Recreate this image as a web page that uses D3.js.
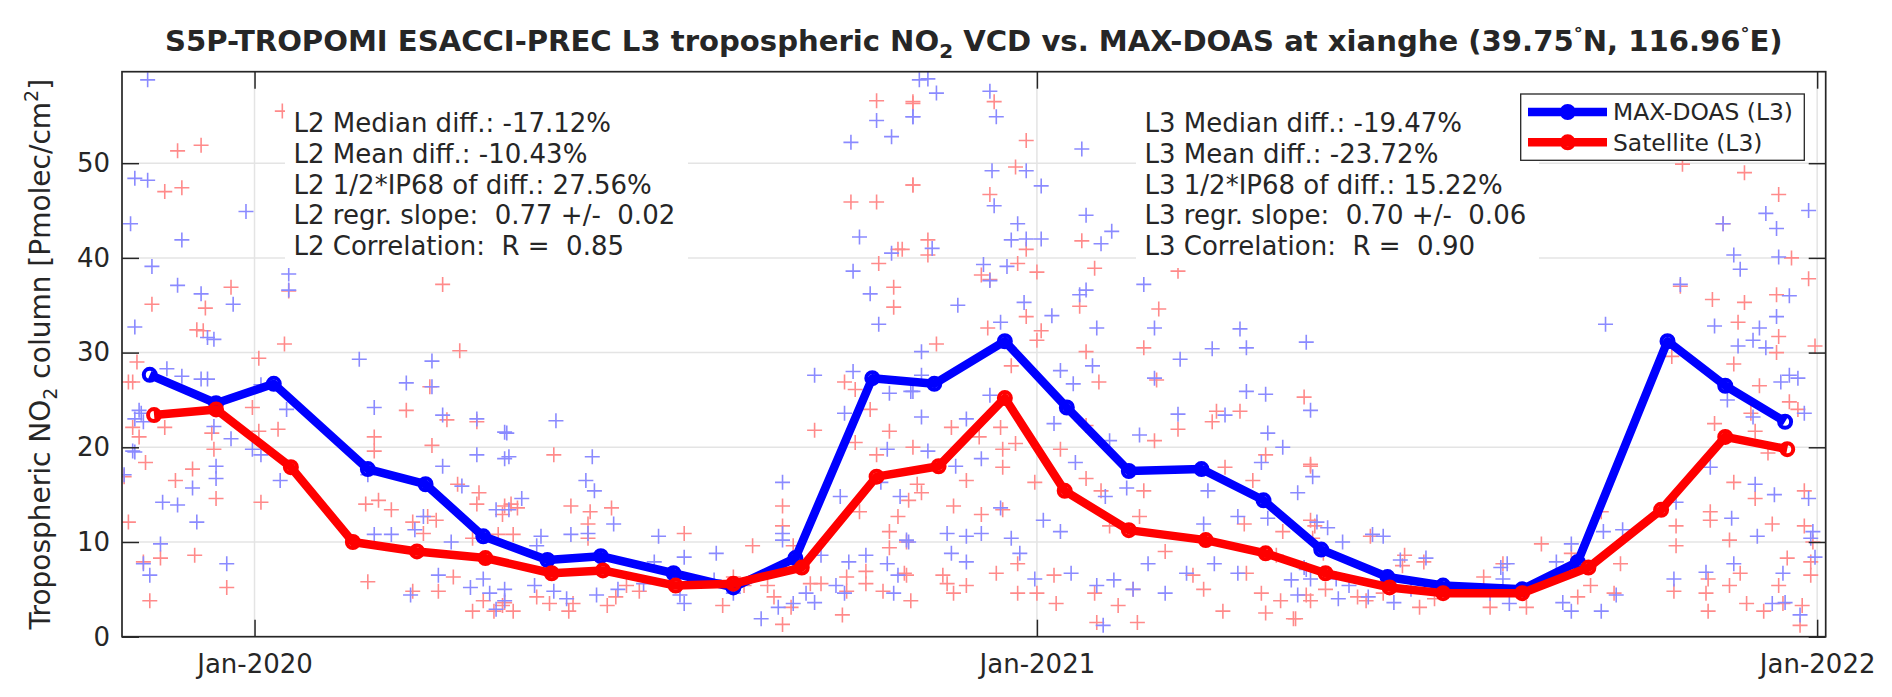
<!DOCTYPE html>
<html>
<head>
<meta charset="utf-8">
<script src="https://cdn.jsdelivr.net/npm/d3@7"></script>
<style>
  body { margin: 0; background: #fff; }
  text { font-family: "DejaVu Sans", "Liberation Sans", sans-serif; fill: #262626; }
</style>
</head>
<body>
<svg id="chart" width="1892" height="697"></svg>
<script>
// monthly means (mean observation time of each month)
const doasDates = ["2019-11-13","2019-12-14","2020-01-10","2020-02-23","2020-03-21","2020-04-17",
  "2020-05-17","2020-06-11","2020-07-15","2020-08-12","2020-09-10","2020-10-16","2020-11-14",
  "2020-12-17","2021-01-15","2021-02-13","2021-03-19","2021-04-17","2021-05-14","2021-06-14",
  "2021-07-10","2021-08-16","2021-09-11","2021-10-23","2021-11-19","2021-12-17"];
const doasMonthly = [27.65,24.65,26.7,17.7,16.1,10.6,8.1,8.5,6.7,5.2,8.3,27.3,26.7,
  31.2,24.2,17.5,17.7,14.4,9.2,6.3,5.4,5.0,7.9,31.2,26.5,22.7];

const satDates = ["2019-11-15","2019-12-14","2020-01-18","2020-02-16","2020-03-17","2020-04-18",
  "2020-05-19","2020-06-12","2020-07-16","2020-08-12","2020-09-13","2020-10-18","2020-11-16",
  "2020-12-17","2021-01-14","2021-02-13","2021-03-21","2021-04-18","2021-05-16","2021-06-15",
  "2021-07-10","2021-08-16","2021-09-16","2021-10-20","2021-11-19","2021-12-18"];
const satMonthly = [23.4,24.0,17.9,10.0,9.0,8.3,6.7,7.0,5.4,5.6,7.3,16.9,18.0,
  25.2,15.4,11.25,10.2,8.8,6.7,5.2,4.6,4.6,7.3,13.4,21.1,19.8];

// daily pairs: [days since 2020-01-01, value]
const doasDaily = [[-50,58.8],[-56,48.4],[-50,48.2],[-58,43.6],[-4,44.9],[-34,41.9],[-48,39.1],[-36,37.1],
  [-25,36.2],[-10,35.1],[16,38.3],[16,36.6],[-56,32.7],[-19,31.4],[-22,31.6],[-41,28.3],[-34,27.5],[-25,27.2],
  [-22,27.2],[49,29.3],[83,29.1],[71,26.8],[83,26.4],[56,24.2],[88,23.4],[104,23.0],[117,21.6],[-53,23.6],
  [-56,23.0],[-57,19.6],[-61,17.1],[-11,20.9],[-18,18.0],[-18,16.7],[-29,15.7],[-43,14.2],[-36,13.9],[-27,12.1],
  [-44,9.8],[-49,6.5],[-52,7.7],[-13,7.7],[-1,19.8],[3,19.2],[12,16.5],[15,24.0],[3,26.6],[53,17.1],[56,10.8],
  [64,10.8],[75,11.3],[79,12.7],[88,18.0],[97,15.9],[104,19.2],[113,13.4],[117,18.8],[86,6.5],[92,10.0],
  [101,5.2],[110,4.6],[113,2.9],[107,6.1],[73,4.4],[-54,23.9],[-56,19.5],[-52,22.7],[-19,22.2],
  [279,52.2],[291,54.5],[298,52.8],[308,54.9],[311,58.8],[283,42.2],[280,38.6],[298,40.5],[288,36.2],[292,33.0],
  [262,27.6],[280,28.0],[276,23.6],[297,25.7],[307,25.9],[296,19.8],[293,16.3],[302,14.8],[274,14.8],[247,16.3],
  [118,21.5],[119,19.0],[141,22.8],[158,19.0],[155,16.5],[159,15.4],[168,11.9],[125,14.6],[119,13.4],[148,10.8],
  [156,10.9],[134,10.6],[132,9.6],[189,10.6],[201,8.4],[187,7.9],[216,8.8],[247,10.2],[247,10.9],[265,8.6],
  [286,8.6],[278,7.9],[306,10.0],[296,7.7],[301,6.5],[276,4.6],[117,5.0],[117,3.8],[131,5.4],[140,4.8],
  [146,4.0],[160,4.4],[170,5.0],[182,5.6],[199,4.4],[201,3.5],[215,6.0],[224,4.6],[237,1.9],[245,3.1],
  [252,3.5],[258,4.6],[262,3.6],[272,5.4],[299,4.6],
  [315,58.9],[319,57.4],[344,57.6],[347,54.9],[308,54.9],[345,49.2],[361,49.2],[368,47.6],[387,51.5],[346,45.5],
  [357,43.6],[361,42.0],[368,42.0],[354,41.9],[396,41.5],[401,42.8],[389,44.5],[317,41.0],[341,39.3],[352,39.1],
  [344,37.6],[389,36.6],[386,36.1],[416,37.2],[329,35.0],[360,35.3],[373,33.9],[349,33.2],[394,32.6],[421,32.6],
  [461,32.5],[464,30.5],[492,31.1],[448,30.4],[433,29.3],[392,28.6],[377,28.1],[312,30.1],[312,27.6],[308,25.9],
  [383,26.7],[421,27.3],[464,25.9],[473,25.6],[494,23.9],[344,25.5],[374,22.5],[333,23.0],[312,23.2],[432,23.5],
  [474,21.5],[481,20.0],[454,23.4],[414,21.3],[400,20.7],[384,18.4],[315,19.6],[340,18.8],[328,18.0],[349,13.6],
  [369,12.3],[377,11.1],[398,14.8],[408,15.7],[446,15.4],[471,18.4],[488,15.2],[305,10.2],[324,10.9],[333,10.6],
  [340,10.9],[354,10.4],[326,8.8],[333,7.9],[358,8.8],[365,6.1],[382,6.7],[394,5.4],[402,6.0],[418,7.7],
  [426,4.6],[411,5.0],[397,1.2],[436,6.7],[449,7.7],[460,6.7],[485,6.0],[488,4.4],[492,7.1],[497,12.1],
  [460,12.7],[444,11.9],[474,12.5],
  [495,16.9],[502,11.5],[509,10.0],[491,7.3],[494,6.1],[506,6.1],[512,5.4],[523,10.8],[528,10.6],[536,8.1],
  [548,8.3],[533,3.6],[541,5.0],[521,4.2],[578,4.6],[584,6.1],[586,7.7],[587,3.5],[507,4.0],
  [583,7.3],[609,7.9],[616,9.8],[612,3.6],[616,2.7],[630,2.7],[637,4.4],[632,33.0],[640,11.3],[631,11.1],
  [665,14.2],[664,6.1],[667,37.2],[679,6.8],[681,17.9],[683,32.8],[687,43.6],[692,40.3],[695,38.8],[694,30.7],
  [701,31.3],[704,32.6],[707,30.5],[689,25.0],[691,12.5],[703,10.6],[702,16.1],[711,15.0],[707,44.7],[712,43.1],
  [713,40.1],[712,33.8],[718,36.0],[714,26.9],[718,27.6],[722,27.3],[725,23.6],[727,45.0],[701,23.2],[692,7.7],
  [715,6.7],[710,3.5],[716,3.6],[723,2.3],[727,14.6],[728,10.4],[729,11.1],[730,8.4]];

const satDaily = [[-36,51.3],[-25,51.9],[-42,47.0],[-34,47.4],[13,55.5],[-48,35.1],[-23,34.7],[-11,36.9],
  [-27,32.4],[-24,32.3],[16,36.5],[14,30.9],[2,29.4],[-55,29.0],[-57,26.9],[-59,26.9],[88,37.2],[96,30.2],
  [82,26.4],[71,23.9],[90,22.9],[104,22.7],[83,20.2],[-1,24.2],[11,21.9],[2,21.7],[-57,22.1],[-54,21.1],
  [-42,22.1],[-20,21.5],[-19,19.8],[-51,18.4],[-61,16.9],[-29,17.7],[-37,16.5],[-18,14.6],[3,14.2],[-59,12.1],
  [-44,8.3],[-52,7.9],[-28,8.6],[-13,5.2],[-49,3.8],[56,21.1],[56,19.6],[52,14.0],[58,14.4],[64,13.4],
  [74,12.1],[81,12.7],[85,12.3],[95,16.1],[105,15.2],[104,14.0],[117,13.8],[116,12.9],[79,10.9],[102,10.4],
  [114,10.8],[53,5.8],[74,4.8],[86,4.8],[93,6.3],[102,2.7],[107,3.8],[112,2.7],[117,3.6],
  [291,56.6],[308,56.5],[308,47.7],[279,45.9],[291,45.9],[301,40.9],[292,39.4],[299,36.9],[299,34.8],[276,26.9],
  [281,26.1],[288,24.0],[262,21.8],[297,21.7],[281,20.5],[291,19.2],[308,20.0],[306,14.4],[301,12.7],[297,11.1],
  [283,13.2],[297,9.4],[305,6.5],[277,6.3],[286,5.6],[294,4.8],[286,6.9],[277,4.8],[275,2.3],[140,19.2],
  [120,14.0],[123,13.6],[121,10.8],[148,13.8],[157,13.2],[156,11.9],[167,13.6],[156,10.4],[201,10.9],[233,9.6],
  [247,13.8],[247,11.7],[252,9.6],[260,5.6],[132,4.2],[138,3.5],[147,2.7],[149,3.5],[165,3.3],[169,4.2],
  [174,5.4],[180,4.8],[199,5.4],[219,3.3],[224,6.3],[229,5.4],[240,5.4],[243,4.2],[247,1.3],[251,3.1],
  [121,2.7],[116,3.3],[265,5.6],
  [308,56.3],[346,56.5],[361,52.4],[308,47.7],[344,46.7],[356,49.6],[315,41.9],[315,40.3],[361,40.9],[387,41.8],
  [357,39.4],[366,38.5],[340,38.2],[344,37.7],[393,38.9],[386,34.9],[432,38.6],[423,34.6],[343,32.6],[368,32.3],
  [361,33.8],[366,31.3],[319,30.9],[416,30.5],[389,30.1],[354,28.6],[395,26.9],[422,27.1],[303,40.9],[491,25.3],
  [450,23.8],[461,23.8],[448,22.7],[432,21.9],[473,19.2],[494,18.0],[326,22.1],[349,22.1],[350,19.8],[356,20.4],
  [339,21.1],[377,19.8],[389,22.3],[333,16.5],[350,17.9],[365,16.3],[310,16.1],[312,15.2],[340,12.9],[327,13.8],
  [350,13.4],[389,16.7],[396,15.4],[416,15.4],[414,12.7],[400,11.7],[421,20.7],[454,17.9],[467,16.5],[463,11.9],
  [481,11.1],[494,12.3],[478,8.6],[305,10.0],[322,6.5],[304,6.7],[347,6.7],[357,7.7],[374,6.5],[324,5.6],
  [333,5.4],[307,3.8],[327,4.6],[357,4.6],[366,4.6],[375,3.5],[393,4.6],[404,3.3],[411,5.0],[413,1.5],
  [394,1.5],[426,9.0],[439,6.5],[444,5.0],[453,2.7],[471,4.6],[473,2.5],[480,3.8],[486,1.9],[492,4.4],[464,6.7],
  [494,18.2],[496,11.7],[495,10.4],[500,8.8],[538,8.6],[537,7.5],[547,7.9],[545,3.1],[522,10.6],[520,3.8],
  [501,5.0],[494,3.8],[487,1.9],[516,4.2],[528,4.6],[552,4.0],[575,6.3],[584,7.7],[578,3.1],[595,3.1],
  [602,9.8],[616,8.8],[619,4.2],[625,5.4],[639,7.7],[630,13.2],[636,4.6],[667,37.0],[663,29.6],[665,11.7],
  [665,9.6],[664,4.8],[668,49.9],[697,49.0],[713,46.7],[687,43.6],[719,40.0],[727,37.8],[682,35.6],[697,35.3],
  [712,36.1],[694,33.2],[713,31.7],[712,30.0],[730,30.7],[692,28.8],[704,26.5],[718,24.8],[722,24.0],[683,22.5],
  [700,23.6],[702,21.7],[708,19.4],[692,16.3],[702,14.6],[725,15.4],[681,13.2],[681,12.3],[710,11.9],[690,10.2],
  [725,11.7],[728,7.9],[717,8.3],[713,5.4],[680,6.1],[679,4.6],[680,2.7],[690,5.4],[695,6.7],[698,3.5],
  [706,2.7],[715,3.5],[723,1.2],[724,3.3],[728,6.5],[729,10.0]];

const yTicks = [0, 10, 20, 30, 40, 50];
const xTicks = ["2020-01-01", "2021-01-01", "2022-01-01"];
const seriesNames = ["MAX-DOAS (L3)", "Satellite (L3)"];
const statsL2 = ["L2 Median diff.: -17.12%", "L2 Mean diff.: -10.43%", "L2 1/2*IP68 of diff.: 27.56%",
  "L2 regr. slope:  0.77 +/-  0.02", "L2 Correlation:  R =  0.85"];
const statsL3 = ["L3 Median diff.: -19.47%", "L3 Mean diff.: -23.72%", "L3 1/2*IP68 of diff.: 15.22%",
  "L3 regr. slope:  0.70 +/-  0.06", "L3 Correlation:  R =  0.90"];

const dayMs = 864e5;
const t0 = Date.UTC(2020, 0, 1);
const parse = d3.utcParse("%Y-%m-%d");

const W = 1892, H = 697;
const m = { left: 122, right: 1825.7, top: 71.7, bottom: 636.7 };
const tickLen = 17;
const blue = "#0000ff", red = "#ff0000";
const lightBlue = "#8a8aff", lightRed = "#ff8a8a";
const lineW = 8.5, markR = 6, markW = 4;

const svg = d3.select("#chart");
svg.append("rect").attr("width", W).attr("height", H).attr("fill", "#fff");

const x = d3.scaleUtc()
  .domain([new Date(t0 - 62 * dayMs), new Date(t0 + 735 * dayMs)])
  .range([m.left, m.right]);
const y = d3.scaleLinear().domain([0, 59.66]).range([m.bottom, m.top]);

svg.append("clipPath").attr("id", "plot-clip")
  .append("rect")
  .attr("x", m.left).attr("y", m.top)
  .attr("width", m.right - m.left).attr("height", m.bottom - m.top);

// grid
const gGrid = svg.append("g").attr("stroke", "#e4e4e4").attr("stroke-width", 1.5);
gGrid.selectAll(".gy").data(yTicks.slice(1)).join("line")
  .attr("x1", m.left).attr("x2", m.right)
  .attr("y1", (d) => y(d)).attr("y2", (d) => y(d));
gGrid.selectAll(".gx").data(xTicks.map(parse)).join("line")
  .attr("y1", m.top).attr("y2", m.bottom)
  .attr("x1", (d) => x(d)).attr("x2", (d) => x(d));

const gPlot = svg.append("g").attr("clip-path", "url(#plot-clip)");

// daily crosses
const crossSize = 7.5;
function drawCrosses(data, color) {
  gPlot.append("g")
    .attr("stroke", color).attr("stroke-width", 1.6).attr("fill", "none")
    .selectAll("path").data(data).join("path")
    .attr("d", (d) => {
      const cx = x(new Date(t0 + d[0] * dayMs));
      const cy = y(d[1]);
      return `M${cx - crossSize},${cy}H${cx + crossSize}M${cx},${cy - crossSize}V${cy + crossSize}`;
    });
}
drawCrosses(satDaily, lightRed);
drawCrosses(doasDaily, lightBlue);

// monthly lines
const line = d3.line().x((d) => x(d.date)).y((d) => y(d.value));
function drawMonthly(dates, values, color) {
  const data = dates.map((d, i) => ({ date: parse(d), value: values[i] }));
  const g = gPlot.append("g");
  g.append("path").datum(data)
    .attr("fill", "none").attr("stroke", color)
    .attr("stroke-width", lineW).attr("stroke-linejoin", "round")
    .attr("d", line);
  g.selectAll("circle").data(data).join("circle")
    .attr("cx", (d) => x(d.date)).attr("cy", (d) => y(d.value))
    .attr("r", markR).attr("fill", "none")
    .attr("stroke", color).attr("stroke-width", markW);
}
drawMonthly(doasDates, doasMonthly, blue);
drawMonthly(satDates, satMonthly, red);

// axes (ticks inside on all four sides)
const fmt = d3.utcFormat("%b-%Y");
const xTickDates = xTicks.map(parse);
const axisStyle = (g) => {
  g.select(".domain").remove();
  g.selectAll(".tick line").attr("stroke", "#262626").attr("stroke-width", 1.5);
  g.selectAll(".tick text").attr("font-size", 26).attr("fill", "#262626")
    .attr("font-family", '"DejaVu Sans", sans-serif');
};
svg.append("g").attr("transform", `translate(0,${m.bottom})`)
  .call(d3.axisBottom(x).tickValues(xTickDates).tickFormat(fmt).tickSize(-tickLen).tickPadding(17.5))
  .call(axisStyle);
svg.append("g").attr("transform", `translate(0,${m.top})`)
  .call(d3.axisTop(x).tickValues(xTickDates).tickFormat("").tickSize(-tickLen))
  .call(axisStyle);
svg.append("g").attr("transform", `translate(${m.left},0)`)
  .call(d3.axisLeft(y).tickValues(yTicks).tickSize(-tickLen).tickPadding(12))
  .call(axisStyle);
svg.append("g").attr("transform", `translate(${m.right},0)`)
  .call(d3.axisRight(y).tickValues(yTicks).tickFormat("").tickSize(-tickLen))
  .call(axisStyle);

svg.append("rect")
  .attr("x", m.left).attr("y", m.top)
  .attr("width", m.right - m.left).attr("height", m.bottom - m.top)
  .attr("fill", "none").attr("stroke", "#262626").attr("stroke-width", 1.7);

// statistics text boxes
function statsBox(lines, bx, bw) {
  const g = svg.append("g");
  g.append("rect").attr("x", bx).attr("y", 100).attr("width", bw).attr("height", 168).attr("fill", "#fff");
  g.selectAll("text").data(lines).join("text")
    .attr("x", bx + 8.5).attr("y", (d, i) => 132 + i * 30.8)
    .attr("font-size", 26).attr("fill", "#000")
    .style("white-space", "pre")
    .text((d) => d);
}
statsBox(statsL2, 285, 403);
statsBox(statsL3, 1136, 403);

// legend
const gLeg = svg.append("g");
gLeg.append("rect").attr("x", 1520.7).attr("y", 94).attr("width", 283.6).attr("height", 66.3)
  .attr("fill", "#fff").attr("stroke", "#262626").attr("stroke-width", 1.3);
[blue, red].forEach((c, i) => {
  const ly = 112 + i * 30.3;
  gLeg.append("line").attr("x1", 1528).attr("x2", 1607).attr("y1", ly).attr("y2", ly)
    .attr("stroke", c).attr("stroke-width", lineW);
  gLeg.append("circle").attr("cx", 1567.7).attr("cy", ly).attr("r", markR)
    .attr("fill", "none").attr("stroke", c).attr("stroke-width", markW);
  gLeg.append("text").attr("x", 1613).attr("y", ly).attr("dy", "0.36em")
    .attr("font-size", 23.4).attr("fill", "#000").text(seriesNames[i]);
});

// y label
const yl = svg.append("text")
  .attr("transform", `translate(50,${(m.top + m.bottom) / 2}) rotate(-90)`)
  .attr("text-anchor", "middle").attr("font-size", 28);
yl.append("tspan").text("Tropospheric NO");
yl.append("tspan").attr("font-size", 19).attr("dy", 7).text("2");
yl.append("tspan").attr("dy", -7).text(" column [Pmolec/cm");
yl.append("tspan").attr("font-size", 19).attr("dy", -12).text("2");
yl.append("tspan").attr("dy", 12).text("]");

// title
const tt = svg.append("text")
  .attr("x", (m.left + m.right) / 2).attr("y", 50.7)
  .attr("text-anchor", "middle").attr("font-size", 29.1).attr("font-weight", "bold").attr("fill", "#000");
tt.append("tspan").text("S5P-TROPOMI ESACCI-PREC L3 tropospheric NO");
tt.append("tspan").attr("font-size", 20).attr("dy", 7).text("2");
tt.append("tspan").attr("dy", -7).text(" VCD vs. MAX-DOAS at xianghe (39.75");
tt.append("tspan").attr("font-size", 18).attr("dy", -11).text("°");
tt.append("tspan").attr("dy", 11).text("N, 116.96");
tt.append("tspan").attr("font-size", 18).attr("dy", -11).text("°");
tt.append("tspan").attr("dy", 11).text("E)");
</script>
</body>
</html>
